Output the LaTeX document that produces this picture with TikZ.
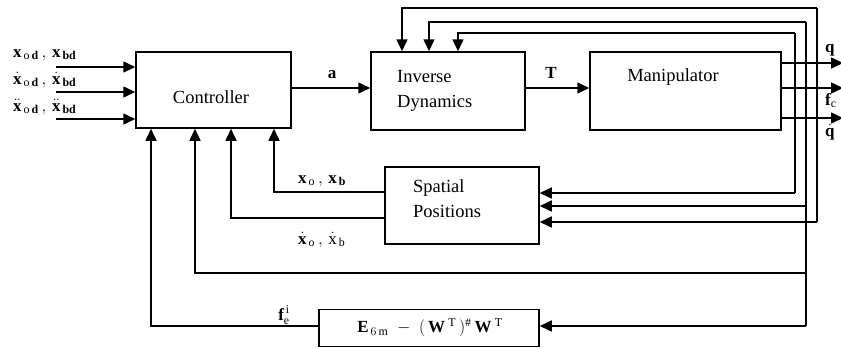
\documentclass[tikz,border=0pt]{standalone}
\usepackage{fontspec}
\setmainfont{Liberation Serif}
\usetikzlibrary{arrows.meta}
\tikzset{
  box/.style={draw, line width=1.5pt, inner sep=0pt},
  ttext/.style={inner sep=0pt, font=\fontsize{18.5}{25}\selectfont},
  wire/.style={line width=1.5pt},
  arr/.style={wire, -{Triangle[length=12pt,width=11pt]}},
  lbl/.style={inner sep=0pt, font=\fontsize{17}{17}\selectfont},
}
\begin{document}
\begin{tikzpicture}[x=1pt,y=-1pt]
\useasboundingbox (0,0) rectangle (841,348);
% boxes
\node[box, minimum width=155pt, minimum height=76pt] (ctrl) at (213.5,90) {};
\node[box, minimum width=154pt, minimum height=78pt] (id) at (448,91) {};
\node[box, minimum width=191pt, minimum height=78pt] (man) at (685.5,91) {};
\node[box, minimum width=154pt, minimum height=77pt] (sp) at (462,205.5) {};
\node[box, minimum width=220pt, minimum height=37pt] (emat) at (429,328) {};
% box texts
\node[ttext] (ctrlT) at (211,97) {Controller};
\node[ttext, align=left, anchor=west] (idT) at (397,91) {Inverse\\Dynamics};
\node[ttext] (manT) at (673,77) {Manipulator};
\node[ttext, align=left, anchor=west] (spT) at (413,199) {Spatial\\Positions};
\node[lbl] (ematT) at (430,328) {$\mathbf{E}_{\,6\,\mathrm{m}}\;-\;(\,\mathbf{W}^{\;\mathrm{T}}\,)^{\#}\,\mathbf{W}^{\;\mathrm{T}}$};
% inputs
\coordinate (i1) at (56,67);
\coordinate (i2) at (56,92);
\coordinate (i3) at (56,119);
\draw[arr] (i1) -- (i1 -| ctrl.west);
\draw[arr] (i2) -- (i2 -| ctrl.west);
\draw[arr] (i3) -- (i3 -| ctrl.west);
\node[lbl, anchor=base west] (l1) at (13,57) {$\mathbf{x}_{\,\mathrm{o}\,\mathbf{d}}\,,\,\mathbf{x}_{\,\mathbf{bd}}$};
\node[lbl, anchor=base west] (l2) at (13,84) {$\dot{\mathbf{x}}_{\,\mathrm{o}\,\mathbf{d}}\,,\,\dot{\mathbf{x}}_{\,\mathbf{bd}}$};
\node[lbl, anchor=base west] (l3) at (13,111) {$\ddot{\mathbf{x}}_{\,\mathrm{o}\,\mathbf{d}}\,,\,\ddot{\mathbf{x}}_{\,\mathbf{bd}}$};
% a and T
\draw[arr] (ctrl.east |- 0,88) -- (id.west |- 0,88);
\node[lbl, anchor=base] (la) at (332,78) {$\mathbf{a}$};
\draw[arr] (id.east |- 0,88) -- (man.west |- 0,88);
\node[lbl, anchor=base] (lT) at (551,78) {$\mathbf{T}$};
% outputs
\coordinate (o1) at (843,63);
\coordinate (o2) at (843,88);
\coordinate (o3) at (843,118);
\draw[arr] (man.east |- o1) -- (o1);
\draw[arr] (man.east |- o2) -- (o2);
\draw[arr] (man.east |- o3) -- (o3);
\node[lbl, anchor=base west] (lq) at (825,52) {$\mathbf{q}$};
\node[lbl, anchor=base west] (lf) at (825,105) {$\mathbf{f}_{\mathrm{c}}$};
\node[lbl, anchor=base west] (lqd) at (825,136) {$\dot{\mathbf{q}}$};
% feedback loops
\coordinate (t1) at (817,8);
\coordinate (t2) at (806,22);
\coordinate (t3) at (795,33);
\coordinate (b1) at (817,222);
\coordinate (b2) at (806,326);
\coordinate (b3) at (795,193);
\coordinate (m2) at (806,206);
\coordinate (m3) at (806,273);
\draw[arr] (t1) -| ([xshift=-46pt]id.north);
\draw[arr] (t2) -| ([xshift=-19pt]id.north);
\draw[arr] (t3) -| ([xshift=10pt]id.north);
\draw[wire] (t1) -- (b1);
\draw[wire] (t2) -- (b2);
\draw[wire] (t3) -- (b3);
\draw[arr] (b3) -- (sp.east |- b3);
\draw[arr] (m2) -- (sp.east |- m2);
\draw[arr] (b1) -- (sp.east |- b1);
\draw[arr] (m3) -| ([xshift=-18.5pt]ctrl.south);
\draw[arr] (b2) -- (emat.east |- b2);
\draw[arr] (emat.west |- b2) -| ([xshift=-62.5pt]ctrl.south);
\node[lbl, anchor=base] (lfe) at (284,320) {$\mathbf{f}_{\mathrm{e}}^{\,\mathrm{i}}$};
% spatial outputs
\draw[arr] (sp.west |- 0,192) -| ([xshift=60.5pt]ctrl.south);
\draw[arr] (sp.west |- 0,218) -| ([xshift=17.5pt]ctrl.south);
\node[lbl, anchor=base west] (lxo) at (298,183) {$\mathbf{x}_{\,\mathrm{o}}\,,\,\mathbf{x}_{\,\mathbf{b}}$};
\node[lbl, anchor=base west] (lxd) at (298,244) {$\dot{\mathbf{x}}_{\,\mathrm{o}}\,,\,\dot{\mathrm{x}}_{\,\mathrm{b}}$};
\end{tikzpicture}
\end{document}
